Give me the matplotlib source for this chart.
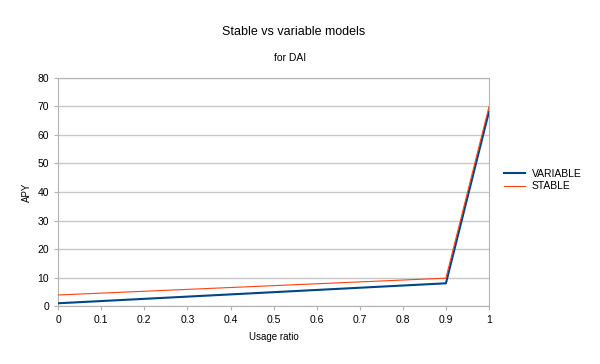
import matplotlib.pyplot as plt

plt.rcParams['font.family'] = ['Liberation Sans', 'DejaVu Sans']

usage = [0, 0.9, 1]
variable = [1.0, 8.0, 68.2]
stable = [3.9, 9.8, 69.9]

fig = plt.figure(figsize=(6, 3.64), dpi=100)
ax = fig.add_axes([0.097, 0.159, 0.718, 0.627])

ax.plot(usage, variable, color='#004586', linewidth=1.5, label='VARIABLE', zorder=3)
ax.plot(usage, stable, color='#ff420e', linewidth=0.8, label='STABLE', zorder=3)

ax.set_xlim(0, 1)
ax.set_ylim(0, 80)
ax.set_xticks([i / 10 for i in range(11)])
ax.set_xticklabels(['0', '0.1', '0.2', '0.3', '0.4', '0.5', '0.6', '0.7', '0.8', '0.9', '1'])
ax.set_yticks(range(0, 81, 10))
ax.yaxis.grid(True, color='#c8c8c8', linewidth=1)
ax.set_axisbelow(True)
for s in ax.spines.values():
    s.set_color('#b3b3b3')
ax.tick_params(labelsize=7.5, colors='#b3b3b3', labelcolor='black', length=3)

ax.set_xlabel('Usage ratio', fontsize=7, labelpad=5)
ax.set_ylabel('APY', fontsize=7, labelpad=4)

fig.text(0.49, 0.912, 'Stable vs variable models', ha='center', va='center', fontsize=9)
fig.text(0.484, 0.84, 'for DAI', ha='center', va='center', fontsize=7.5)

fig.legend(loc='center left', bbox_to_anchor=(0.825, 0.505), frameon=False, fontsize=7.5,
           handlelength=2.0, handletextpad=0.6, labelspacing=0.2)

fig.savefig('out.png')
